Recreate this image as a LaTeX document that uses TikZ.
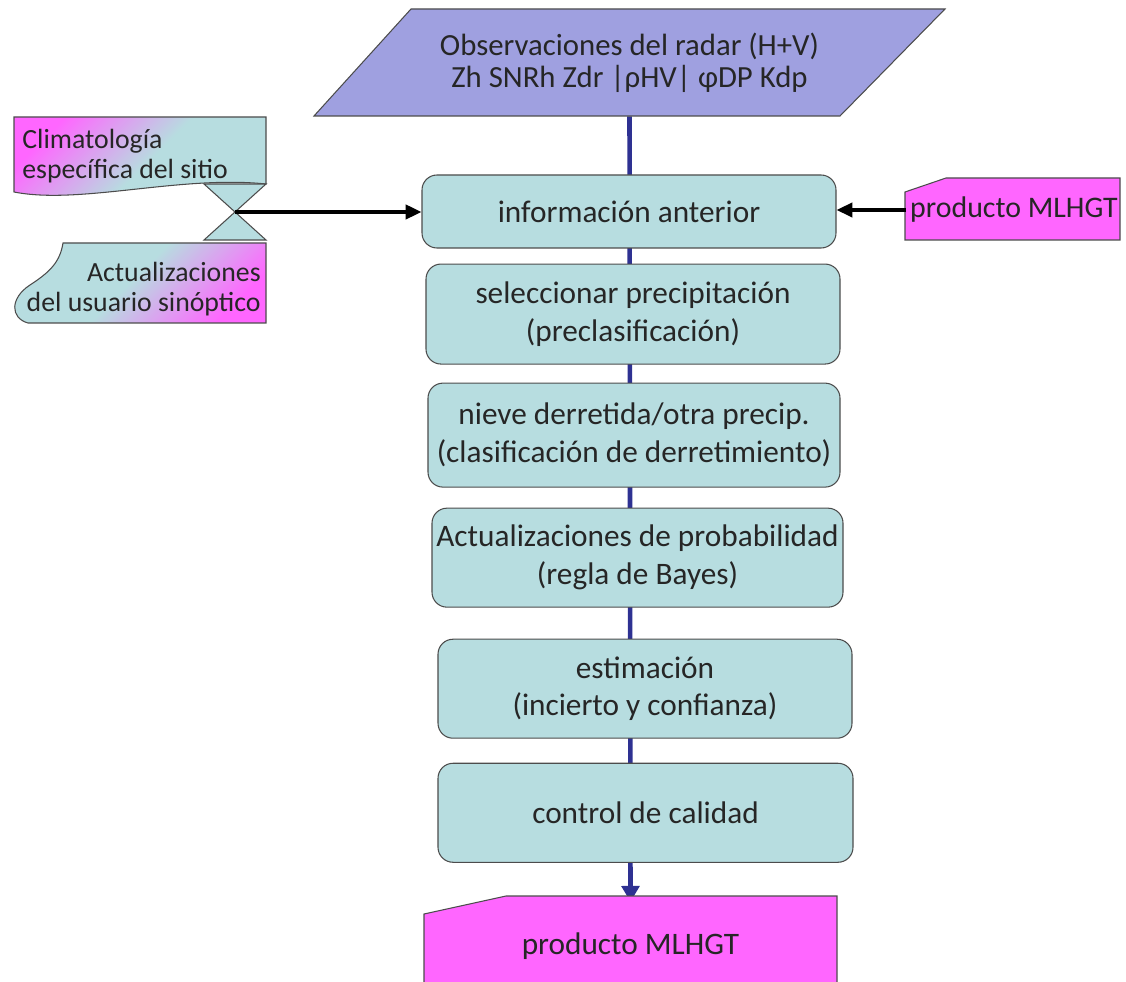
\documentclass[tikz,border=0pt]{standalone}
\usepackage{fontspec}
\setmainfont{Carlito}
\usepackage{tikz}
\usetikzlibrary{shapes,arrows.meta,calc,positioning,backgrounds}
\definecolor{boxteal}{HTML}{B7DDE0}
\definecolor{obsblue}{HTML}{9FA0E0}
\definecolor{mlmag}{HTML}{FF66FF}
\definecolor{lineblue}{HTML}{2E3192}
\pgfdeclarehorizontalshading{magtoteal}{100bp}{color(0bp)=(mlmag); color(25bp)=(mlmag); color(52bp)=(boxteal); color(100bp)=(boxteal)}
\newcommand{\boxfont}{\fontsize{17.8}{21.5}\selectfont}
\newcommand{\sidefont}{\fontsize{15.8}{17}\selectfont}
\tikzset{
    box/.style ={rectangle, rounded corners=0.3cm, draw=black!70, line width=0.6pt, fill=boxteal,
                 align=center, inner sep=2pt, minimum width=8.28cm, text=black!85, font=\boxfont},
    txt/.style = {inner sep=0pt, align=center, text=black!85, font=\boxfont},
    shp/.style = {draw=black!70, line width=0.6pt},
    flow/.style = {draw=lineblue, line width=2.6pt, -{Triangle[length=9pt,width=10pt]}},
    feed/.style = {line width=2.2pt, -{Triangle[length=9pt,width=8pt]}}
}

\begin{document}
\begin{tikzpicture}
    \useasboundingbox (0,0) rectangle (22.52,-19.64);

    % input shapes
    \path[shp, fill=obsblue] (6.28,-2.32) -- (8.22,-0.18) -- (18.9,-0.18) -- (16.8,-2.32) -- cycle;
    \path[shp, fill=mlmag] (18.1,-3.84) -- (18.92,-3.56) -- (22.4,-3.56) -- (22.4,-4.8) -- (18.1,-4.8) -- cycle;
    \path[shp, fill=mlmag] (8.48,-18.28) -- (10.12,-17.92) -- (16.74,-17.92) -- (16.74,-20) -- (8.48,-20) -- cycle;
    \path[shp, shading=magtoteal, shading angle=-45] (0.28,-2.34) -- (5.32,-2.34) -- (5.32,-3.68)
        .. controls (3.6,-3.5) and (1.6,-4.1) .. (0.28,-3.84) -- cycle;
    \path[shp, shading=magtoteal, shading angle=135] (1.26,-4.86) .. controls (1.2,-5.24) and (1.0,-5.44) .. (0.6,-5.7)
        .. controls (0.2,-5.96) and (0.2,-6.36) .. (0.56,-6.46) -- (5.32,-6.46) -- (5.32,-4.86) -- cycle;
    \path[shp, fill=boxteal] (4.08,-3.68) -- (5.32,-3.68) -- (4.08,-4.8) -- (5.32,-4.8) -- cycle;
    \coordinate (cross) at (4.7,-4.24);

    \node[txt, minimum height=2.14cm, font=\fontsize{17.5}{18}\selectfont] (obs) at (12.59,-1.25)
        {Observaciones del radar (H+V)\\Zh SNRh Zdr |ρHV| φDP Kdp};
    \node[txt, anchor=west, align=left, font=\sidefont] (clim) at (0.44,-3.12)
        {Climatología\\específica del sitio};
    \node[txt, anchor=east, align=right, font=\sidefont] (user) at (5.22,-5.78)
        {Actualizaciones\\del usuario sinóptico};
    \node[txt, minimum width=4.3cm, minimum height=1.24cm, font=\fontsize{17}{20}\selectfont] (mlhR) at (20.28,-4.2)
        {producto MLHGT};

    % processing chain
    \node[box, minimum height=1.46cm] (prior) at (12.58,-4.23) {información anterior};
    \node[box, minimum height=2cm] (select) [below =0.3cm of prior, xshift=0.08cm]
        {seleccionar precipitación\\(preclasificación)};
    \node[box, minimum height=2.08cm, minimum width=8.24cm] (melt) [below =0.36cm of select, xshift=0.02cm]
        {nieve derretida/otra precip.\\(clasificación de derretimiento)};
    \node[box, minimum height=1.98cm, minimum width=8.22cm] (bayes) [below =0.4cm of melt, xshift=0.07cm]
        {Actualizaciones de probabilidad\\(regla de Bayes)};
    \node[box, minimum height=1.98cm] (estim) [below =0.62cm of bayes, xshift=0.15cm]
        {estimación\\(incierto y confianza)};
    \node[box, minimum height=1.98cm, minimum width=8.3cm] (qc) [below =0.48cm of estim, xshift=0.01cm]
        {control de calidad};
    \node[txt, minimum width=8.26cm, minimum height=1.76cm] (mlhB) [below =0.78cm of qc, xshift=-0.3cm]
        {producto MLHGT};

    \begin{scope}[on background layer]
        \path[flow] (obs.south) -- (mlhB.north);
    \end{scope}

    \draw[feed] (cross) -- (cross -| prior.west);
    \draw[feed] (mlhR.west) -- (mlhR.west -| prior.east);
\end{tikzpicture}
\end{document}
